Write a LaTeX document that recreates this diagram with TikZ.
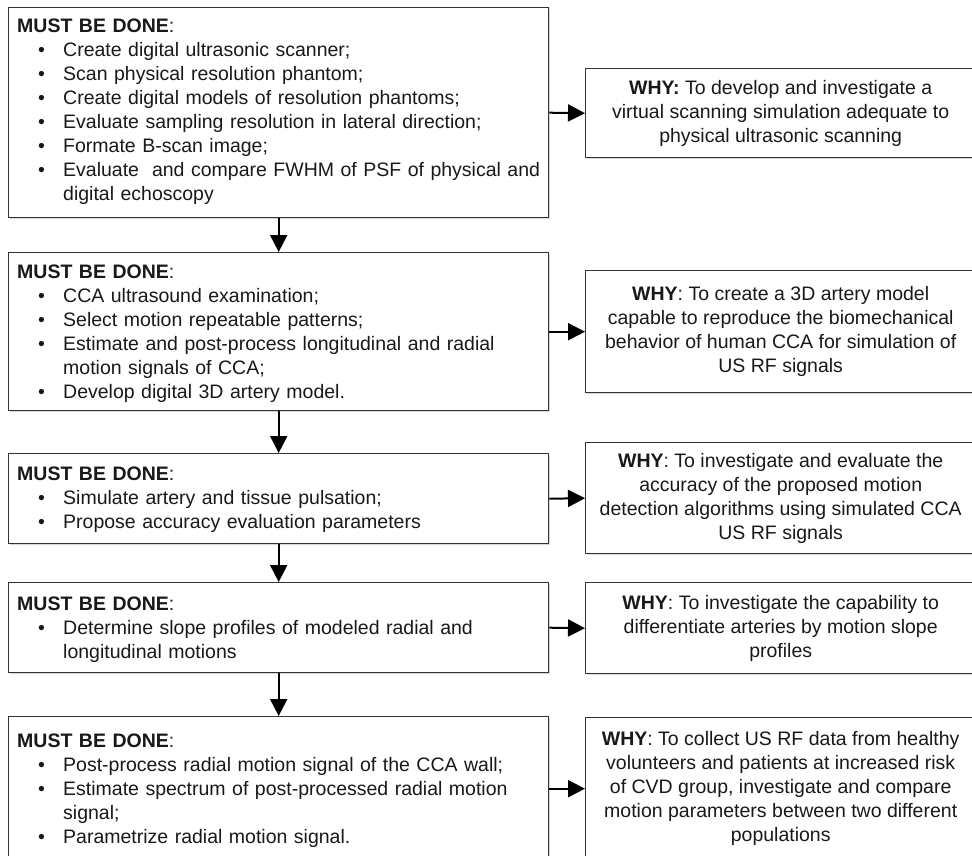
\documentclass[tikz,border=0pt]{standalone}
\usepackage{fontspec}
\setmainfont{Liberation Sans}
\usetikzlibrary{arrows.meta,shadows}
\newcommand{\itm}[1]{\par\leftskip=46pt\noindent\llap{\makebox[25pt][l]{\textbullet}}#1\par}
\newcommand{\fs}{\fontsize{19.5}{24}\selectfont}
\tikzset{
  box/.style={draw=black!80, line width=1.4pt, anchor=north west, inner sep=0pt, fill=white,
    drop shadow={shadow xshift=1.5pt, shadow yshift=-1.5pt, fill=black!30, opacity=.5}},
  ltext/.style={anchor=north west, inner sep=0pt, text width=540pt, align=left, font=\fs, text=black!90},
  rtext/.style={inner sep=0pt, align=center, font=\fs, text=black!90},
  arr/.style={line width=2pt, -{Triangle[length=17pt,width=17pt]}},
}
\begin{document}
\begin{tikzpicture}[x=1pt,y=-1pt]
\useasboundingbox (0,0) rectangle (972,855);
% left boxes
\node[box, minimum width=540pt, minimum height=210pt] (m1) at (8,7) {};
\node[box, minimum width=540pt, minimum height=158pt] (m2) at (8,252) {};
\node[box, minimum width=540pt, minimum height=90pt] (m3) at (8,453) {};
\node[box, minimum width=540pt, minimum height=90pt] (m4) at (8,582) {};
\node[box, minimum width=540pt, minimum height=144pt] (m5) at (8,716) {};
% right boxes
\node[box, minimum width=390pt, minimum height=89pt] (r1) at (585,68) {};
\node[box, minimum width=390pt, minimum height=122pt] (r2) at (585,270) {};
\node[box, minimum width=390pt, minimum height=111pt] (r3) at (585,442) {};
\node[box, minimum width=390pt, minimum height=91pt] (r4) at (585,582) {};
\node[box, minimum width=390pt, minimum height=142pt] (r5) at (585,717) {};
% left texts
\node[ltext] (t1) at ([xshift=9pt,yshift=-8.5pt]m1.north west) {\strut\textbf{MUST BE DONE}:%
\itm{Create digital ultrasonic scanner;}%
\itm{Scan physical resolution phantom;}%
\itm{Create digital models of resolution phantoms;}%
\itm{Evaluate sampling resolution in lateral direction;}%
\itm{Formate B-scan image;}%
\itm{Evaluate \ and compare FWHM of PSF of physical and\newline digital echoscopy}};
\node[ltext] (t2) at ([xshift=9pt,yshift=-9pt]m2.north west) {\strut\textbf{MUST BE DONE}:%
\itm{CCA ultrasound examination;}%
\itm{Select motion repeatable patterns;}%
\itm{Estimate and post-process longitudinal and radial\newline motion signals of CCA;}%
\itm{Develop digital 3D artery model.}};
\node[ltext] (t3) at ([xshift=9pt,yshift=-10.5pt]m3.north west) {\strut\textbf{MUST BE DONE}:%
\itm{Simulate artery and tissue pulsation;}%
\itm{Propose accuracy evaluation parameters}};
\node[ltext] (t4) at ([xshift=9pt,yshift=-11pt]m4.north west) {\strut\textbf{MUST BE DONE}:%
\itm{Determine slope profiles of modeled radial and\newline longitudinal motions}};
\node[ltext] (t5) at ([xshift=9pt,yshift=-14pt]m5.north west) {\strut\textbf{MUST BE DONE}:%
\itm{Post-process radial motion signal of the CCA wall;}%
\itm{Estimate spectrum of post-processed radial motion\newline signal;}%
\itm{Parametrize radial motion signal.}};
% right texts
\node[rtext] (w1) at (r1.center) {\textbf{WHY:} To develop and investigate a\\virtual scanning simulation adequate to\\physical ultrasonic scanning};
\node[rtext] (w2) at (r2.center) {\textbf{WHY}: To create a 3D artery model\\capable to reproduce the biomechanical\\behavior of human CCA for simulation of\\US RF signals};
\node[rtext] (w3) at (r3.center) {\textbf{WHY}: To investigate and evaluate the\\accuracy of the proposed motion\\detection algorithms using simulated CCA\\US RF signals};
\node[rtext] (w4) at (r4.center) {\textbf{WHY}: To investigate the capability to\\differentiate arteries by motion slope\\profiles};
\node[rtext] (w5) at (r5.center) {\textbf{WHY}: To collect US RF data from healthy\\volunteers and patients at increased risk\\of CVD group, investigate and compare\\motion parameters between two different\\populations};
% arrows
\draw[arr] (m1.south) -- (m2.north);
\draw[arr] (m2.south) -- (m3.north);
\draw[arr] (m3.south) -- (m4.north);
\draw[arr] (m4.south) -- (m5.north);
\draw[arr] (m1.east) -- (r1.west);
\draw[arr] (m2.east) -- (r2.west);
\draw[arr] (m3.east) -- (r3.west);
\draw[arr] (m4.east) -- (r4.west);
\draw[arr] (m5.east) -- (r5.west);
\end{tikzpicture}
\end{document}
